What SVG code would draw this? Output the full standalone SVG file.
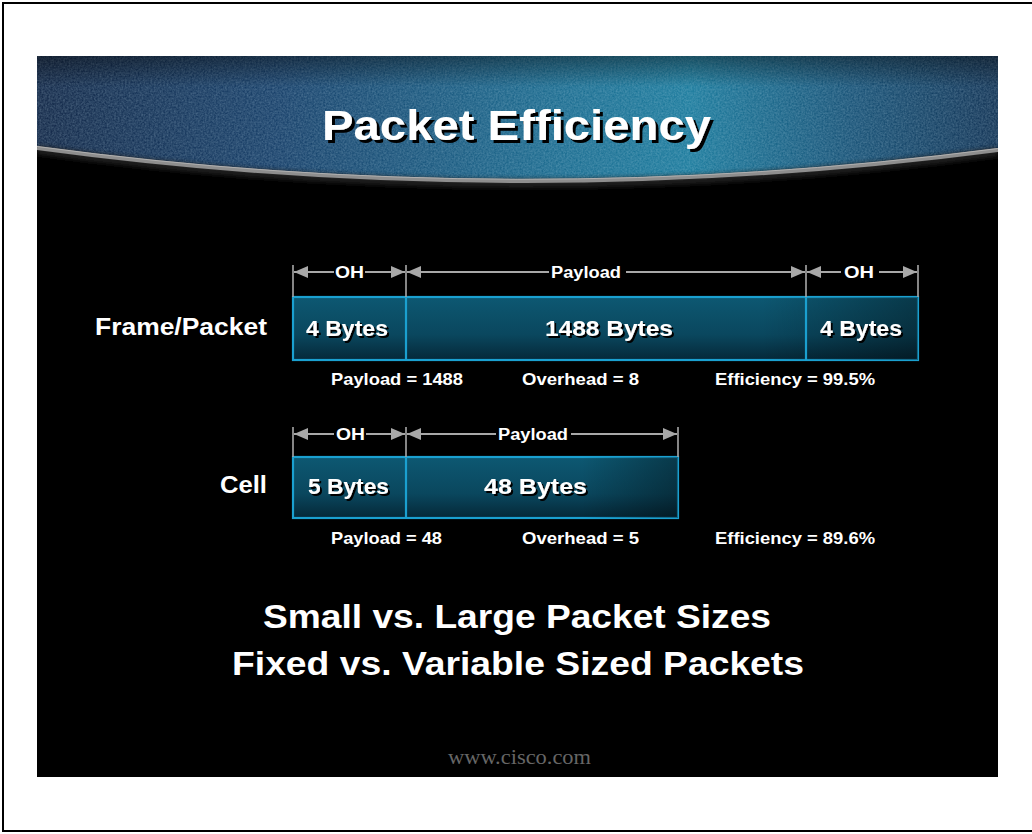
<svg xmlns="http://www.w3.org/2000/svg" width="1032" height="834" viewBox="0 0 1032 834">
  <defs>
    <style>
      .lbl { font-family: "Liberation Sans", Arial, sans-serif; font-weight: bold; fill: #ffffff; white-space: pre; }
      .side { font-size: 23px; }
      .cellTxt { font-size: 22.5px; filter: url(#dropSm); }
      .dim { font-size: 16px; }
      .stat { font-size: 17px; }
      .big { font-size: 33px; }
      .box { fill: url(#boxFill); stroke: #1aa0d0; stroke-width: 2.2; }
      .div { stroke: #1aa0d0; stroke-width: 2.2; }
      .tick { stroke: #a8a8a8; stroke-width: 1.6; }
      .dline { stroke: #a8a8a8; stroke-width: 2; fill: none; }
      .arr { marker-end: url(#ah); }
    </style>
    <linearGradient id="hdr" x1="0" y1="0" x2="1" y2="0">
      <stop offset="0" stop-color="#112646"/>
      <stop offset="0.25" stop-color="#163e68"/>
      <stop offset="0.55" stop-color="#1a6c90"/>
      <stop offset="0.68" stop-color="#1a7a9c"/>
      <stop offset="0.85" stop-color="#165075"/>
      <stop offset="1" stop-color="#113254"/>
    </linearGradient>
    <linearGradient id="hdrV" x1="0" y1="0" x2="0" y2="1">
      <stop offset="0" stop-color="#000000" stop-opacity="0.4"/>
      <stop offset="0.25" stop-color="#000000" stop-opacity="0"/>
      <stop offset="1" stop-color="#000000" stop-opacity="0"/>
    </linearGradient>
    <linearGradient id="boxFill" x1="0" y1="0" x2="0" y2="1">
      <stop offset="0" stop-color="#0d5872"/>
      <stop offset="0.6" stop-color="#0a475e"/>
      <stop offset="1" stop-color="#052838"/>
    </linearGradient>
    <linearGradient id="boxShade" x1="0" y1="0" x2="1" y2="0">
      <stop offset="0" stop-color="#000000" stop-opacity="0"/>
      <stop offset="0.75" stop-color="#000000" stop-opacity="0"/>
      <stop offset="1" stop-color="#000000" stop-opacity="0.35"/>
    </linearGradient>
    <filter id="grain" x="0" y="0" width="1" height="1">
      <feTurbulence type="fractalNoise" baseFrequency="0.55" numOctaves="2" seed="4" result="n"/>
      <feColorMatrix in="n" type="matrix" values="0 0 0 0 0.6  0 0 0 0 0.8  0 0 0 0 0.9  0 0 0 0.35 -0.05" result="c"/>
      <feComposite in="c" in2="SourceGraphic" operator="in"/>
    </filter>
    <filter id="soft" x="-5%" y="-50%" width="110%" height="200%">
      <feGaussianBlur stdDeviation="2.5"/>
    </filter>
    <!-- hard black drop shadows behind white lettering -->
    <filter id="dropLg" x="-5%" y="-20%" width="115%" height="150%">
      <feDropShadow dx="3" dy="3" stdDeviation="0.4" flood-color="#000000" flood-opacity="1"/>
    </filter>
    <filter id="dropSm" x="-5%" y="-20%" width="115%" height="150%">
      <feDropShadow dx="2" dy="2" stdDeviation="0.4" flood-color="#000000" flood-opacity="1"/>
    </filter>
    <marker id="ah" viewBox="0 0 14 12" refX="14" refY="6" markerWidth="14" markerHeight="12" markerUnits="userSpaceOnUse" orient="auto-start-reverse">
      <path d="M0,0 L14,6 L0,12 Z" fill="#a8a8a8"/>
    </marker>
    <clipPath id="slideClip">
      <rect x="37" y="56" width="961" height="721"/>
    </clipPath>
  </defs>

  <!-- page -->
  <rect x="0" y="0" width="1032" height="834" fill="#ffffff"/>
  <rect x="3" y="3" width="1034" height="828" fill="none" stroke="#000000" stroke-width="2"/>

  <!-- slide background and curved header band -->
  <g id="slide" clip-path="url(#slideClip)">
    <rect x="37" y="56" width="961" height="721" fill="#000000"/>
    <path id="band" d="M37,56 H998 V148 Q517,212 37,146 Z" fill="url(#hdr)"/>
    <path d="M37,56 H998 V148 Q517,212 37,146 Z" fill="#ffffff" filter="url(#grain)"/>
    <path d="M37,56 H998 V148 Q517,212 37,146 Z" fill="url(#hdrV)"/>
    <path d="M37,150 Q517,216 998,152" fill="none" stroke="#202020" stroke-width="8" filter="url(#soft)"/>
    <path d="M37,148 Q517,213 998,150" fill="none" stroke="#8e8e8e" stroke-width="4"/>
    <path d="M37,146.5 Q517,211 998,148.5" fill="none" stroke="#b0b0b0" stroke-width="1"/>
  </g>

  <!-- title -->
  <g id="title" class="lbl" style="font-size:42px" filter="url(#dropLg)">
    <text x="322" y="140" textLength="389" lengthAdjust="spacingAndGlyphs">Packet Efficiency</text>
  </g>

  <!-- row labels -->
  <g id="rowFrame" class="lbl side"><text x="95" y="335" textLength="172" lengthAdjust="spacingAndGlyphs">Frame/Packet</text></g>
  <g id="rowCell" class="lbl side"><text x="220" y="493" textLength="47" lengthAdjust="spacingAndGlyphs">Cell</text></g>

  <!-- frame / packet -->
  <g id="frame">
    <rect class="box" x="293" y="297" width="625" height="63"/>
    <rect x="293" y="297" width="625" height="63" fill="url(#boxShade)"/>
    <line class="div" x1="406" y1="297" x2="406" y2="360"/>
    <line class="div" x1="806" y1="297" x2="806" y2="360"/>
  </g>
  <g id="frameOH1" class="lbl cellTxt">
    <text x="306" y="336" textLength="82" lengthAdjust="spacingAndGlyphs">4 Bytes</text>
  </g>
  <g id="framePayload" class="lbl cellTxt">
    <text x="545" y="336" textLength="128" lengthAdjust="spacingAndGlyphs">1488  Bytes</text>
  </g>
  <g id="frameOH2" class="lbl cellTxt">
    <text x="820" y="336" textLength="82" lengthAdjust="spacingAndGlyphs">4 Bytes</text>
  </g>

  <!-- cell -->
  <g id="cell">
    <rect class="box" x="293" y="457" width="385" height="61"/>
    <rect x="293" y="457" width="385" height="61" fill="url(#boxShade)"/>
    <line class="div" x1="406" y1="457" x2="406" y2="518"/>
  </g>
  <g id="cellOH" class="lbl cellTxt">
    <text x="308" y="494" textLength="81" lengthAdjust="spacingAndGlyphs">5 Bytes</text>
  </g>
  <g id="cellPayload" class="lbl cellTxt">
    <text x="484" y="494" textLength="103" lengthAdjust="spacingAndGlyphs">48  Bytes</text>
  </g>

  <!-- dimension lines -->
  <g id="connectors">
    <line class="tick" x1="293" y1="265" x2="293" y2="297"/>
    <line class="tick" x1="406" y1="265" x2="406" y2="297"/>
    <line class="tick" x1="806" y1="265" x2="806" y2="297"/>
    <line class="tick" x1="918" y1="265" x2="918" y2="297"/>
    <line class="dline arr" x1="334" y1="272" x2="294" y2="272"/>
    <line class="dline arr" x1="365" y1="272" x2="405" y2="272"/>
    <line class="dline arr" x1="549" y1="272" x2="407" y2="272"/>
    <line class="dline arr" x1="626" y1="272" x2="805" y2="272"/>
    <line class="dline arr" x1="841" y1="272" x2="807" y2="272"/>
    <line class="dline arr" x1="879" y1="272" x2="917" y2="272"/>

    <line class="tick" x1="293" y1="427" x2="293" y2="457"/>
    <line class="tick" x1="406" y1="427" x2="406" y2="457"/>
    <line class="tick" x1="678" y1="427" x2="678" y2="457"/>
    <line class="dline arr" x1="334" y1="434" x2="294" y2="434"/>
    <line class="dline arr" x1="366" y1="434" x2="405" y2="434"/>
    <line class="dline arr" x1="496" y1="434" x2="407" y2="434"/>
    <line class="dline arr" x1="571" y1="434" x2="677" y2="434"/>
  </g>

  <!-- dimension labels -->
  <g id="dimLabels" class="lbl dim">
    <text x="335" y="278" textLength="29" lengthAdjust="spacingAndGlyphs">OH</text>
    <text x="551" y="278" textLength="70" lengthAdjust="spacingAndGlyphs">Payload</text>
    <text x="844" y="278" textLength="30" lengthAdjust="spacingAndGlyphs">OH</text>
    <text x="336" y="440" textLength="29" lengthAdjust="spacingAndGlyphs">OH</text>
    <text x="498" y="440" textLength="70" lengthAdjust="spacingAndGlyphs">Payload</text>
  </g>

  <!-- totals -->
  <g id="statsFrame" class="lbl stat">
    <text x="331" y="385" textLength="132" lengthAdjust="spacingAndGlyphs">Payload = 1488</text>
    <text x="522" y="385" textLength="117" lengthAdjust="spacingAndGlyphs">Overhead = 8</text>
    <text x="715" y="385" textLength="160" lengthAdjust="spacingAndGlyphs">Efficiency = 99.5%</text>
  </g>
  <g id="statsCell" class="lbl stat">
    <text x="331" y="544" textLength="111" lengthAdjust="spacingAndGlyphs">Payload = 48</text>
    <text x="522" y="544" textLength="117" lengthAdjust="spacingAndGlyphs">Overhead = 5</text>
    <text x="715" y="544" textLength="160" lengthAdjust="spacingAndGlyphs">Efficiency = 89.6%</text>
  </g>

  <!-- summary -->
  <g id="summary" class="lbl big">
    <text x="263" y="628" textLength="508" lengthAdjust="spacingAndGlyphs">Small vs. Large Packet Sizes</text>
    <text x="232" y="675" textLength="572" lengthAdjust="spacingAndGlyphs">Fixed vs. Variable Sized Packets</text>
  </g>

  <!-- footer -->
  <g id="footer">
    <text x="448" y="764" textLength="143" lengthAdjust="spacingAndGlyphs" font-family="'Liberation Serif', 'Times New Roman', serif" font-size="21" fill="#666666">www.cisco.com</text>
  </g>
</svg>
